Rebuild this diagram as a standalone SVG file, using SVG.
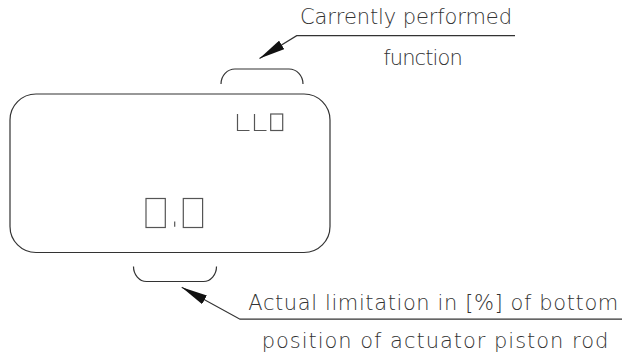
<svg xmlns="http://www.w3.org/2000/svg" width="625" height="353" viewBox="0 0 625 353">
<style>
.ln{fill:none;stroke:#333;stroke-width:1.2}
.seg{fill:none;stroke:#555;stroke-width:1.2}
.t{font-family:"DejaVu Sans","Liberation Sans",sans-serif;font-size:21px;font-weight:200;fill:#333}
</style>
<defs>
<marker id="arrow" viewBox="0 0 26 10" refX="0" refY="5" markerWidth="26" markerHeight="10" markerUnits="userSpaceOnUse" orient="auto">
<path d="M0,5 L26,0 L26,10 z" fill="#111"/>
</marker>
</defs>
<rect width="625" height="353" fill="#fff"/>
<g id="display">
<rect class="ln" x="10" y="94" width="320" height="158.5" rx="26" ry="26"/>
</g>
<g id="function-digits">
<path class="seg" d="M237.5,114 V130.5 H249.5 M254.5,114 V130.5 H266.5"/>
<rect class="seg" x="270.7" y="114" width="12" height="16.5"/>
</g>
<g id="limit-digits">
<rect class="seg" x="146" y="198.5" width="19.3" height="29"/>
<path class="seg" d="M174.7,221.5 V226.7"/>
<rect class="seg" x="183.3" y="198.5" width="19.3" height="29"/>
</g>
<g id="top-bracket">
<path class="ln" d="M221,84 A14,15 0 0 1 235,69 L289,69 A14,15 0 0 1 303,84"/>
</g>
<g id="bottom-bracket">
<path class="ln" d="M133.5,266.5 A13,15 0 0 0 146.5,281.5 L203.5,281.5 A13,15 0 0 0 216.5,266.5"/>
</g>
<g id="connectors">
<path class="ln" d="M259.5,58.5 L296.7,35.7 H515" marker-start="url(#arrow)"/>
<path class="ln" d="M181.7,287.3 L240,319.2 H622" marker-start="url(#arrow)"/>
</g>
<g id="label-function">
<text class="t" x="300" y="24" textLength="212" lengthAdjust="spacing">Carrently performed</text>
<text class="t" x="383.3" y="65" textLength="79.4" lengthAdjust="spacing">function</text>
</g>
<g id="label-limitation">
<text class="t" x="248.3" y="310" textLength="370" lengthAdjust="spacing">Actual limitation in [%] of bottom</text>
<text class="t" x="261.7" y="348" textLength="346.6" lengthAdjust="spacing">position of actuator piston rod</text>
</g>
</svg>
